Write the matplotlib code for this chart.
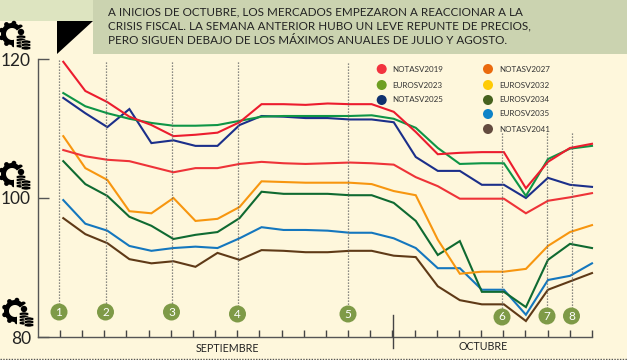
import numpy as np
import matplotlib
matplotlib.use("Agg")
import matplotlib.pyplot as plt
from matplotlib.patches import Circle, Ellipse, Polygon, Rectangle, Wedge

plt.rcParams['font.family'] = ['Lato', 'DejaVu Sans']

notasv2019 = [119.6, 115.4, 113.8, 111.7, 110.5, 108.9, 109.1, 109.4, 110.9, 113.5, 113.5, 113.4, 113.6,
              113.5, 113.5, 112.4, 109.5, 106.3, 106.5, 106.6, 106.6, 101.4, 105.2, 107.2, 107.8]
eurosv2023 = [115.1, 113.2, 112.2, 111.4, 110.8, 110.4, 110.4, 110.5, 111.1, 111.7, 111.8, 111.8, 111.8,
              111.8, 111.9, 111.4, 110.1, 107.2, 104.9, 105.0, 105.0, 100.3, 105.6, 107.1, 107.5]
notasv2025 = [114.4, 112.2, 110.2, 112.8, 107.9, 108.3, 107.5, 107.5, 110.5, 111.8, 111.7, 111.5, 111.5,
              111.3, 111.3, 110.9, 105.9, 103.9, 103.9, 101.9, 101.9, 100.0, 102.9, 101.9, 101.6]
notasv2027 = [106.9, 106.0, 105.5, 105.3, 104.5, 103.7, 104.3, 104.3, 104.9, 105.2, 105.0, 104.9, 105.0,
              105.1, 105.0, 104.8, 103.0, 101.7, 99.9, 99.9, 99.9, 97.8, 99.6, 100.1, 100.7]
eurosv2032 = [108.9, 104.3, 102.6, 98.1, 97.8, 100.0, 96.7, 97.0, 98.7, 102.4, 102.3, 102.2, 102.2,
              102.2, 102.0, 101.0, 100.4, 94.0, 89.1, 89.4, 89.4, 89.8, 93.1, 95.1, 96.1]
eurosv2034 = [105.3, 102.0, 100.3, 97.3, 96.0, 94.1, 94.7, 95.1, 97.1, 100.9, 100.6, 100.6, 100.6,
              100.4, 100.4, 99.3, 96.7, 91.8, 93.8, 86.5, 86.5, 84.3, 91.1, 93.4, 92.8]
eurosv2035 = [99.7, 96.3, 95.3, 93.1, 92.4, 92.8, 93.0, 92.8, 94.2, 95.8, 95.4, 95.4, 95.3,
              95.0, 95.0, 94.2, 92.8, 89.9, 89.9, 86.8, 86.8, 83.2, 88.2, 88.8, 90.6]
notasv2041 = [97.1, 94.8, 93.5, 91.2, 90.6, 90.9, 90.1, 92.1, 91.1, 92.5, 92.4, 92.2, 92.2,
              92.4, 92.4, 91.7, 91.5, 87.3, 85.3, 84.7, 84.7, 82.3, 86.8, 88.0, 89.2]

# orden de dibujo: de atras hacia adelante
line_series = [notasv2041, eurosv2035, eurosv2034, eurosv2032, notasv2027, notasv2025, eurosv2023, notasv2019]
line_colors = ['#5F3A17', '#1477BE', '#0F6A31', '#F7960F', '#EE3338', '#1B2F8A', '#0E9546', '#EC1C2E']

legend_left = ['NOTASV2019', 'EUROSV2023', 'NOTASV2025']
legend_left_colors = ['#F2333F', '#6E9F22', '#10316F']
legend_right = ['NOTASV2027', 'EUROSV2032', 'EUROSV2034', 'EUROSV2035', 'NOTASV2041']
legend_right_colors = ['#EA6A0D', '#FFCB05', '#46621F', '#0E83C8', '#634B3F']

events = ['1', '2', '3', '4', '5', '6', '7', '8']
event_x = [59, 105.5, 171.5, 237.5, 348, 502, 547, 571.5]
event_y = [312, 312, 312, 314, 314, 317, 316, 316]
event_top = [60, 62, 62, 62, 63, 133, 133, 133]

header_lines = ['A INICIOS DE OCTUBRE, LOS MERCADOS EMPEZARON A REACCIONAR A LA',
                'CRISIS FISCAL. LA SEMANA ANTERIOR HUBO UN LEVE REPUNTE DE PRECIOS,',
                'PERO SIGUEN DEBAJO DE LOS MÁXIMOS ANUALES DE JULIO Y AGOSTO.']

W, H = 627, 360
CREAM = '#FEF7DC'
fig = plt.figure(figsize=(W / 100, H / 100), dpi=100, facecolor=CREAM)

# capa de fondo en pixeles
bg = fig.add_axes([0, 0, 1, 1])
bg.set_xlim(0, W)
bg.set_ylim(H, 0)
bg.axis('off')
bg.add_patch(Rectangle((0, 0), 93, 21, color='#DDE4C0', lw=0))
bg.add_patch(Rectangle((93, 0), W - 93, 54, color='#CBD3B0', lw=0))
bg.add_patch(Polygon([(57, 21), (93, 21), (57, 54)], color='black', lw=0))
bg.plot([0, W], [358.5, 358.5], color='#555555', lw=1.0, ls=(0, (1, 1)))


def gear(cx, cy):
    # engranaje abierto con monedas abajo a la derecha
    r = 11
    bg.add_patch(Wedge((cx, cy), r, 0, 360, width=5, color='black', lw=0))
    for a in np.arange(0, 360, 40):
        t = np.radians(a)
        bg.add_patch(Circle((cx + r * np.cos(t), cy + r * np.sin(t)), 2.4, color='black', lw=0))
    bg.add_patch(Wedge((cx, cy), r + 4, -35, 70, color=CREAM, lw=0))
    bg.add_patch(Rectangle((cx + 2, cy + 2), 18, 14, color=CREAM, lw=0))
    for ex, ey in [(cx + 9, cy + 3), (cx + 9, cy + 6), (cx + 9, cy + 9), (cx + 9, cy + 12),
                   (cx + 14, cy + 8), (cx + 14, cy + 11), (cx + 14, cy + 14)]:
        bg.add_patch(Ellipse((ex, ey), 10, 4, facecolor='black', edgecolor=CREAM, lw=0.4))
    bg.add_patch(Circle((cx + 9, cy - 2), 3.2, color='black', lw=0))


gear(12, 34)
gear(12, 174)
gear(15, 311)

ax = fig.add_axes([38 / W, 1 - 337 / H, (592 - 38) / W, (337 - 59) / H])
ax.patch.set_alpha(0)
x = np.arange(25)
ax.set_xlim(-25.3 / 22.04, 24)
ax.set_ylim(80, 120)
for vals, c in zip(line_series, line_colors):
    ax.plot(x, vals, color=c, lw=1.5, solid_joinstyle='miter', zorder=3, clip_on=False)

for s in ['top', 'right']:
    ax.spines[s].set_visible(False)
for s in ['left', 'bottom']:
    ax.spines[s].set_color('#555555')
    ax.spines[s].set_linewidth(1.0)
ax.set_yticks([80, 100, 120])
ax.tick_params(axis='y', direction='in', length=8, width=1, color='#555555', labelsize=12.5, labelcolor='#222222', pad=5)
ax.set_xticks(np.linspace(-0.15, 24, 25))
ax.set_xticklabels([])
ax.tick_params(axis='x', direction='in', length=5, width=1, color='#444444')

# capa superior en pixeles
top = fig.add_axes([0, 0, 1, 1])
top.set_xlim(0, W)
top.set_ylim(H, 0)
top.axis('off')

for lbl, ex, ey, et in zip(events, event_x, event_y, event_top):
    top.plot([ex, ex], [et, ey], color='#666666', lw=0.9, ls=(0, (1, 1.4)), zorder=2)
    top.add_patch(Circle((ex, ey), 8.5, color='#7E9A47', lw=0, zorder=4))
    top.text(ex, ey, lbl, color='white', fontsize=8.5, ha='center', va='center', zorder=5)

for i, line in enumerate(header_lines):
    top.text(108, 12 + i * 14, line, fontsize=8.4, color='#222222', ha='left', va='center')

for name, c, ly in zip(legend_left, legend_left_colors, [69, 85, 100]):
    top.add_patch(Circle((381.7, ly), 5, color=c, lw=0))
    top.text(392.5, ly, name, fontsize=5.8, color='#333333', ha='left', va='center')
for name, c, ly in zip(legend_right, legend_right_colors, [69, 85, 100, 114, 129]):
    top.add_patch(Circle((488, ly), 5, color=c, lw=0))
    top.text(499.5, ly, name, fontsize=5.8, color='#333333', ha='left', va='center')

top.plot([393, 393], [315, 348], color='#444444', lw=1.0)
top.text(227, 348, 'SEPTIEMBRE', fontsize=7.7, color='#222222', ha='center', va='center')
top.text(483, 347, 'OCTUBRE', fontsize=7.7, color='#222222', ha='center', va='center')

fig.savefig('out.png', dpi=100)
